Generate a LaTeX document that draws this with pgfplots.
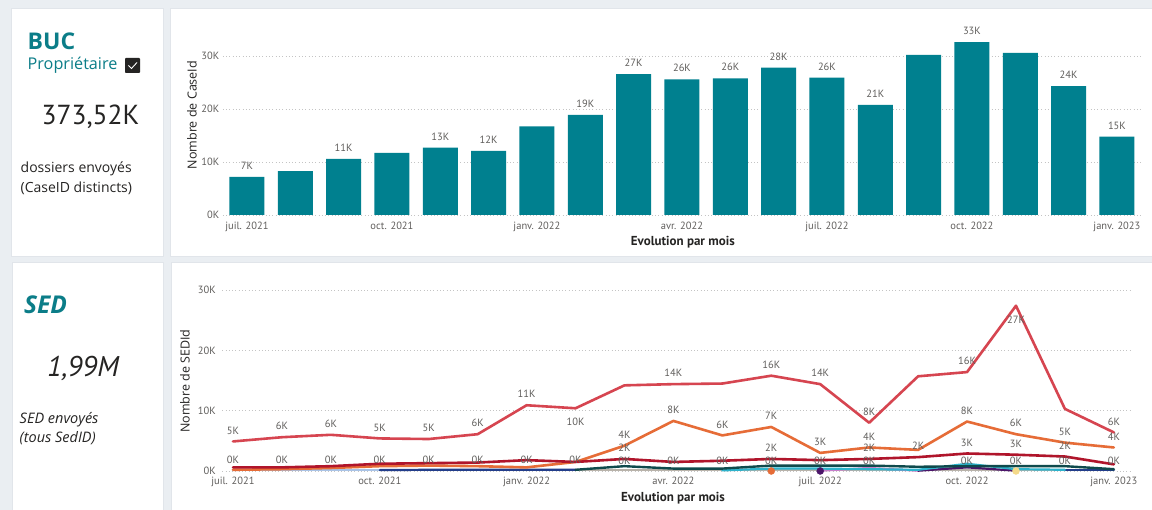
\documentclass[border=0pt]{standalone}
\usepackage{pgfplots}
\pgfplotsset{compat=1.18}
\usepackage{pgfplotstable}
\usepackage{fontspec}
\setmainfont{Open Sans}
\newfontfamily\dinfont{PT Sans}

\definecolor{pagebg}{HTML}{EAEEF2}
\definecolor{cardline}{HTML}{E1E5EA}
\definecolor{tealbar}{HTML}{00808F}
\definecolor{tealtxt}{HTML}{0B7D88}
\definecolor{ink}{HTML}{252423}
\definecolor{tickc}{HTML}{605E5C}
\definecolor{gridc}{HTML}{C4C4C4}
\definecolor{sRed}{HTML}{D64550}
\definecolor{sOrange}{HTML}{E66C37}
\definecolor{sDarkRed}{HTML}{B0152B}
\definecolor{sTeal}{HTML}{0F4A4C}
\definecolor{sCyan}{HTML}{2DB3CC}
\definecolor{sPurple}{HTML}{4B1569}
\definecolor{sPink}{HTML}{C77FC9}
\definecolor{sLight}{HTML}{A9C3E6}
\definecolor{sNavy}{HTML}{233E8B}
\definecolor{sGrey}{HTML}{B9B3AA}
\definecolor{sYellow}{HTML}{F4D98A}

% CaseId per month (thousands); s: 1 = value label shown
\pgfplotstableread{
m  v    s
0  7.2  1
1  8.3  0
2  10.6 1
3  11.7 0
4  12.7 1
5  12.1 1
6  16.7 0
7  18.9 1
8  26.6 1
9  25.6 1
10 25.8 1
11 27.8 1
12 25.9 1
13 20.8 1
14 30.2 0
15 32.6 1
16 30.6 0
17 24.3 1
18 14.8 1
}\bucdata

% SEDId per month (thousands); s: 1 = label above, 2 = label below
\pgfplotstableread{
m  v    s
0  4.9  1
1  5.6  1
2  6.0  1
3  5.4  1
4  5.3  1
5  6.1  1
6  10.9 1
7  10.4 2
8  14.2 0
9  14.4 1
10 14.5 0
11 15.8 1
12 14.4 1
13 8.0  1
14 15.7 0
15 16.4 1
16 27.4 2
17 10.3 0
18 6.4  1
}\sedred

\pgfplotstableread{
m  v   s
0  0.2 0
1  0.3 0
2  0.5 0
3  0.8 0
4  0.9 0
5  0.8 0
6  0.6 0
7  1.5 0
8  4.2 1
9  8.3 1
10 5.9 1
11 7.3 1
12 3.0 1
13 3.9 1
14 3.5 0
15 8.2 1
16 6.1 1
17 4.7 1
18 3.9 1
}\sedorange

\pgfplotstableread{
m  v   s
0  0.6 0
1  0.6 0
2  0.8 0
3  1.2 0
4  1.3 0
5  1.4 0
6  1.8 0
7  1.5 0
8  2.0 1
9  1.5 0
10 1.7 0
11 2.0 1
12 1.8 0
13 2.0 1
14 2.3 1
15 2.9 1
16 2.7 1
17 2.4 1
18 1.1 0
}\seddarkred

\pgfplotstableread{
m v    s
0 0.15 1
1 0.15 1
2 0.15 1
3 0.15 1
}\sedlight

\pgfplotstableread{
m v    s
3 0.15 0
4 0.2  1
5 0.2  1
6 0.2  1
7 0.2  1
}\sednavyA

\pgfplotstableread{
m  v   s
7  0.1 0
8  0.1 1
9  0.1 1
10 0.1 1
11 0.1 1
12 0.1 1
13 0.1 1
14 0.1 0
15 0.1 1
16 0.1 1
17 0.1 1
18 0.1 1
}\sedgrey

\pgfplotstableread{
m  v
17 0.15
18 0.15
}\sednavyB

\pgfplotstableread{
m  v
7  0.2
8  0.8
9  0.4
10 0.4
11 0.9
12 0.9
13 0.9
14 0.7
15 0.8
16 0.8
17 0.8
18 0.3
}\sedteal

\pgfplotstableread{
m  v
10 0.1
11 0.4
12 0.4
13 0.3
14 0.2
15 1.2
16 0.3
17 0.2
}\sedcyan

\pgfplotstableread{
m  v
14 0.05
15 0.6
16 0.05
}\sedpurple

\pgfplotstableread{
m  v
12 0.05
13 0.5
14 0.05
}\sedpink

\pgfplotsset{
  pbiaxis/.style={
    scale only axis, clip=false,
    axis line style={draw=none}, major tick style={draw=none},
    ytick={0,10,20,30}, yticklabels={0K,10K,20K,30K},
    xtick={0,3,...,18},
    xticklabels={juil. 2021,oct. 2021,janv. 2022,avr. 2022,juil. 2022,oct. 2022,janv. 2023},
    ymajorgrids,
    major grid style={gridc, line width=0.7pt, dash pattern=on 0.7pt off 2.6pt},
    tick label style={font=\dinfont\fontsize{10.5}{12}\selectfont, text=tickc},
    xlabel={Evolution par mois},
    xlabel style={anchor=center, font=\dinfont\bfseries\fontsize{13}{15}\selectfont, text=ink},
    ylabel style={anchor=center, font=\fontsize{12.5}{14}\selectfont, text=ink},
  },
  sedline/.style={no markers, line width=#1, line join=round, line cap=round},
  sedline/.default=2.4pt,
}

% value labels (in K) for the rows of a table whose flag s equals #2, shifted by #3
\newcommand\valuelabels[3]{%
  \addplot[draw=none, mark=none, forget plot, point meta=y,
    restrict expr to domain={\thisrow{s}}{#2:#2},
    nodes near coords={\pgfmathprintnumber[fixed,precision=0,assume math mode=true]{\pgfplotspointmeta}K},
    every node near coord/.append style={anchor=center, yshift=#3, inner sep=0pt,
      font=\dinfont\fontsize{10.5}{12}\selectfont, text=tickc}]
    table[x=m, y=v] {#1};
}

\begin{document}
\begin{tikzpicture}[x=1pt,y=1pt]
\useasboundingbox (0,0) rectangle (1152,510);
\fill[pagebg] (0,0) rectangle (1152,510);
% cards
\filldraw[fill=white, draw=cardline, line width=0.8pt] (11,254) rectangle (163,502);
\filldraw[fill=white, draw=cardline, line width=0.8pt] (170,254) rectangle (1160,502);
\filldraw[fill=white, draw=cardline, line width=0.8pt] (12,-5) rectangle (163,248);
\filldraw[fill=white, draw=cardline, line width=0.8pt] (171,-5) rectangle (1160,248);

% BUC card
\node[anchor=west, inner sep=0pt, text=tealtxt, font=\bfseries\fontsize{23}{26}\selectfont] at (27.5,469) {BUC};
\node[anchor=base west, inner sep=0pt, text=tealtxt, font=\fontsize{16.2}{18}\selectfont] at (27.5,440) {Propriétaire};
\fill[ink, rounded corners=0.8pt] (125,437) rectangle (140,452);
\draw[white, line width=0.9pt] (128.5,444.5) -- (131.5,441.5) -- (137,447.5);
\node[inner sep=0pt, text=ink, font=\dinfont\fontsize{27.5}{32}\selectfont] at (90.5,393) {373,52K};
\node[anchor=north west, inner sep=0pt, align=left, text=ink, font=\fontsize{14}{20}\selectfont] at (20.5,348) {dossiers envoyés\\(CaseID distincts)};

% SED card
\node[anchor=west, inner sep=0pt, text=tealtxt, font=\bfseries\itshape\fontsize{24.5}{28}\selectfont] at (24,205.5) {SED};
\node[inner sep=0pt, text=ink, font=\dinfont\itshape\fontsize{28.5}{32}\selectfont] at (83,142) {1,99M};
\node[anchor=north west, inner sep=0pt, align=left, text=ink, font=\itshape\fontsize{14.5}{19.5}\selectfont] at (19.5,98) {SED envoyés\\(tous SedID)};

% monthly CaseId bars
\begin{axis}[pbiaxis,
  at={(222.8pt,295pt)}, anchor=south west,
  width=918.3pt, height=185.5pt,
  xmin=-0.5, xmax=18.5, ymin=0, ymax=35,
  xticklabel style={yshift=-3pt},
  xlabel style={at={(axis description cs:0.501,-0.146)}},
  ylabel={Nombre de CaseId},
  ylabel style={at={(axis description cs:-0.0335,0.539)}},
]
\addplot[ybar, bar width=35pt, fill=tealbar, draw=none] table[x=m, y=v] {\bucdata};
\valuelabels{\bucdata}{1}{11pt}
\end{axis}

% monthly SEDId lines
\begin{axis}[pbiaxis,
  at={(222.2pt,39pt)}, anchor=south west,
  width=907.8pt, height=193pt,
  xmin=-0.22, xmax=18.33, ymin=0, ymax=32,
  xticklabel style={yshift=-2pt},
  yticklabel style={xshift=-3pt},
  xlabel style={at={(axis description cs:0.4966,-0.14)}},
  ylabel={Nombre de SEDId},
  ylabel style={at={(axis description cs:-0.041,0.466)}},
]
\addplot[sedline=2.2pt, sGrey] table[x=m, y=v] {\sedgrey};
\addplot[sedline=2.2pt, sLight] table[x=m, y=v] {\sedlight};
\addplot[sedline=2.2pt, sNavy] table[x=m, y=v] {\sednavyA};
\addplot[sedline=2.2pt, sNavy] table[x=m, y=v] {\sednavyB};
\valuelabels{\sedgrey}{1}{10pt}
\valuelabels{\sedlight}{1}{10pt}
\valuelabels{\sednavyA}{1}{10pt}
\addplot[sedline=2.2pt, sPink] table[x=m, y=v] {\sedpink};
\addplot[sedline=2.2pt, sPurple] table[x=m, y=v] {\sedpurple};
\addplot[sedline=2.2pt, sCyan] table[x=m, y=v] {\sedcyan};
\addplot[sedline=2.4pt, sTeal] table[x=m, y=v] {\sedteal};
\addplot[only marks, mark=*, mark size=3.5pt, sOrange] coordinates {(11,0)};
\addplot[only marks, mark=*, mark size=3.5pt, sPurple] coordinates {(12,0)};
\addplot[only marks, mark=*, mark size=3.5pt, sYellow] coordinates {(16,0)};
\addplot[sedline=2.6pt, sOrange] table[x=m, y=v] {\sedorange};
\valuelabels{\sedorange}{1}{11pt}
\addplot[sedline=2.6pt, sDarkRed] table[x=m, y=v] {\seddarkred};
\valuelabels{\seddarkred}{1}{11pt}
\addplot[sedline=2.6pt, sRed] table[x=m, y=v] {\sedred};
\valuelabels{\sedred}{1}{11pt}
\valuelabels{\sedred}{2}{-14pt}
\end{axis}
\end{tikzpicture}
\end{document}
